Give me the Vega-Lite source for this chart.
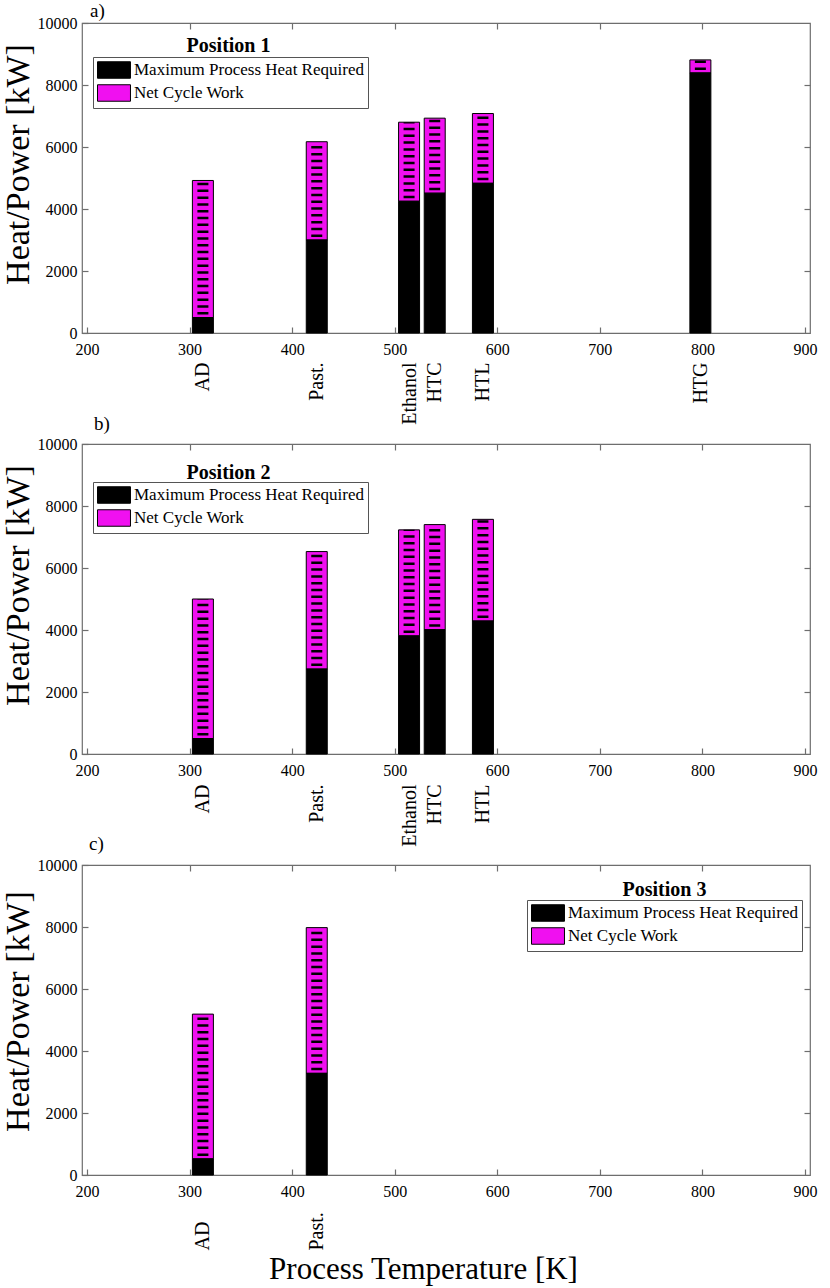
{
  "$schema": "https://vega.github.io/schema/vega-lite/v6.json",
  "description": "Process heat required and net cycle work against process temperature, three positions",
  "padding": {"left": 0, "top": 1, "right": 2, "bottom": 2},
  "background": "white",
  "data": {
    "values": [
      {"panel": "a", "process": "AD", "temperature": 313, "heat": 500, "total": 4920},
      {"panel": "a", "process": "Past.", "temperature": 424, "heat": 3000, "total": 6170},
      {"panel": "a", "process": "Ethanol", "temperature": 514, "heat": 4250, "total": 6800},
      {"panel": "a", "process": "HTC", "temperature": 539, "heat": 4510, "total": 6930},
      {"panel": "a", "process": "HTL", "temperature": 586, "heat": 4830, "total": 7080},
      {"panel": "a", "process": "HTG", "temperature": 798, "heat": 8390, "total": 8810},
      {"panel": "b", "process": "AD", "temperature": 313, "heat": 500, "total": 5000},
      {"panel": "b", "process": "Past.", "temperature": 424, "heat": 2740, "total": 6530},
      {"panel": "b", "process": "Ethanol", "temperature": 514, "heat": 3810, "total": 7230},
      {"panel": "b", "process": "HTC", "temperature": 539, "heat": 4010, "total": 7400},
      {"panel": "b", "process": "HTL", "temperature": 586, "heat": 4290, "total": 7570},
      {"panel": "c", "process": "AD", "temperature": 313, "heat": 520, "total": 5190},
      {"panel": "c", "process": "Past.", "temperature": 424, "heat": 3280, "total": 7980}
    ]
  },
  "vconcat": [
    {
      "title": {"text": "a)", "anchor": "start", "frame": "group", "dx": 8, "offset": -6},
      "width": 728,
      "height": 310,
      "transform": [{"filter": "datum.panel == 'a'"}],
      "layer": [
        {
          "mark": {"type": "bar", "size": 21, "stroke": "black", "strokeWidth": 1},
          "encoding": {
            "x": {"field": "temperature", "type": "quantitative", "scale": {"domain": [200, 900], "nice": false},
                  "axis": {"orient": "top", "labels": false, "title": null, "values": [300, 400, 500, 600, 700, 800]}},
            "y": {"field": "total", "type": "quantitative", "scale": {"domain": [0, 10000], "nice": false},
                  "axis": {"orient": "right", "labels": false, "title": null, "values": [2000, 4000, 6000, 8000]}},
            "y2": {"field": "heat"},
            "color": {"datum": "Net Cycle Work"}
          }
        },
        {
          "mark": {"type": "bar", "size": 21, "stroke": "black", "strokeWidth": 1},
          "encoding": {
            "x": {"field": "temperature", "type": "quantitative",
                  "axis": {"orient": "bottom", "title": null, "format": "d", "values": [200, 300, 400, 500, 600, 700, 800, 900], "labelPadding": 14}},
            "y": {"field": "heat", "type": "quantitative",
                  "axis": {"orient": "left", "title": "Heat/Power [kW]", "titleX": -54, "titleY": 141, "titleBaseline": "alphabetic",
                           "format": "d", "values": [0, 2000, 4000, 6000, 8000, 10000], "labelPadding": 11}},
            "color": {
              "datum": "Maximum Process Heat Required",
              "type": "nominal",
              "scale": {"domain": ["Maximum Process Heat Required", "Net Cycle Work"], "range": ["black", "#f010f0"]},
              "legend": {"orient": "none", "legendX": 11, "legendY": 34}
            }
          }
        },
        {
          "mark": {"type": "rule", "strokeWidth": 11, "strokeDash": [2.5, 4.3], "strokeDashOffset": -3, "color": "black", "strokeCap": "butt"},
          "encoding": {
            "x": {"field": "temperature", "type": "quantitative",
                  "axis": {"orient": "bottom", "title": null, "ticks": false, "labelAngle": 270, "labelAlign": "right", "labelBaseline": "middle",
                           "labelPadding": 29, "labelFontSize": 20, "labelOverlap": false,
                           "values": [313, 424, 514, 539, 586, 798],
                           "labelExpr": "datum.value == 313 ? 'AD' : datum.value == 424 ? 'Past.' : datum.value == 514 ? 'Ethanol' : datum.value == 539 ? 'HTC' : datum.value == 586 ? 'HTL' : 'HTG'"}},
            "y": {"field": "heat", "type": "quantitative", "axis": null},
            "y2": {"field": "total"}
          }
        },
        {
          "data": {"values": [{"panel": "a", "label": "Position 1"}]},
          "mark": {"type": "text", "fontSize": 20, "fontWeight": "bold", "baseline": "middle"},
          "encoding": {
            "x": {"datum": 338, "type": "quantitative", "axis": null},
            "y": {"datum": 9260, "type": "quantitative", "axis": null},
            "text": {"field": "label"}
          }
        }
      ],
      "resolve": {"axis": {"x": "independent", "y": "independent"}}
    },
    {
      "title": {"text": "b)", "anchor": "start", "frame": "group", "dx": 12, "offset": 2},
      "width": 728,
      "height": 310,
      "transform": [{"filter": "datum.panel == 'b'"}],
      "layer": [
        {
          "mark": {"type": "bar", "size": 21, "stroke": "black", "strokeWidth": 1},
          "encoding": {
            "x": {"field": "temperature", "type": "quantitative", "scale": {"domain": [200, 900], "nice": false},
                  "axis": {"orient": "top", "labels": false, "title": null, "values": [300, 400, 500, 600, 700, 800]}},
            "y": {"field": "total", "type": "quantitative", "scale": {"domain": [0, 10000], "nice": false},
                  "axis": {"orient": "right", "labels": false, "title": null, "values": [2000, 4000, 6000, 8000]}},
            "y2": {"field": "heat"},
            "color": {"datum": "Net Cycle Work"}
          }
        },
        {
          "mark": {"type": "bar", "size": 21, "stroke": "black", "strokeWidth": 1},
          "encoding": {
            "x": {"field": "temperature", "type": "quantitative",
                  "axis": {"orient": "bottom", "title": null, "format": "d", "values": [200, 300, 400, 500, 600, 700, 800, 900], "labelPadding": 14}},
            "y": {"field": "heat", "type": "quantitative",
                  "axis": {"orient": "left", "title": "Heat/Power [kW]", "titleX": -54, "titleY": 141, "titleBaseline": "alphabetic",
                           "format": "d", "values": [0, 2000, 4000, 6000, 8000, 10000], "labelPadding": 11}},
            "color": {
              "datum": "Maximum Process Heat Required",
              "type": "nominal",
              "scale": {"domain": ["Maximum Process Heat Required", "Net Cycle Work"], "range": ["black", "#f010f0"]},
              "legend": {"orient": "none", "legendX": 11, "legendY": 38}
            }
          }
        },
        {
          "mark": {"type": "rule", "strokeWidth": 11, "strokeDash": [2.5, 4.3], "strokeDashOffset": -3, "color": "black", "strokeCap": "butt"},
          "encoding": {
            "x": {"field": "temperature", "type": "quantitative",
                  "axis": {"orient": "bottom", "title": null, "ticks": false, "labelAngle": 270, "labelAlign": "right", "labelBaseline": "middle",
                           "labelPadding": 30, "labelFontSize": 20, "labelOverlap": false,
                           "values": [313, 424, 514, 539, 586],
                           "labelExpr": "datum.value == 313 ? 'AD' : datum.value == 424 ? 'Past.' : datum.value == 514 ? 'Ethanol' : datum.value == 539 ? 'HTC' : 'HTL'"}},
            "y": {"field": "heat", "type": "quantitative", "axis": null},
            "y2": {"field": "total"}
          }
        },
        {
          "data": {"values": [{"panel": "b", "label": "Position 2"}]},
          "mark": {"type": "text", "fontSize": 20, "fontWeight": "bold", "baseline": "middle"},
          "encoding": {
            "x": {"datum": 338, "type": "quantitative", "axis": null},
            "y": {"datum": 9080, "type": "quantitative", "axis": null},
            "text": {"field": "label"}
          }
        }
      ],
      "resolve": {"axis": {"x": "independent", "y": "independent"}}
    },
    {
      "title": {"text": "c)", "anchor": "start", "frame": "group", "dx": 7, "offset": 3},
      "width": 728,
      "height": 310,
      "transform": [{"filter": "datum.panel == 'c'"}],
      "layer": [
        {
          "mark": {"type": "bar", "size": 21, "stroke": "black", "strokeWidth": 1},
          "encoding": {
            "x": {"field": "temperature", "type": "quantitative", "scale": {"domain": [200, 900], "nice": false},
                  "axis": {"orient": "top", "labels": false, "title": null, "values": [300, 400, 500, 600, 700, 800]}},
            "y": {"field": "total", "type": "quantitative", "scale": {"domain": [0, 10000], "nice": false},
                  "axis": {"orient": "right", "labels": false, "title": null, "values": [2000, 4000, 6000, 8000]}},
            "y2": {"field": "heat"},
            "color": {"datum": "Net Cycle Work"}
          }
        },
        {
          "mark": {"type": "bar", "size": 21, "stroke": "black", "strokeWidth": 1},
          "encoding": {
            "x": {"field": "temperature", "type": "quantitative",
                  "axis": {"orient": "bottom", "title": "Process Temperature [K]", "titleFontSize": 31, "titleX": 341, "titleY": 103,
                           "titleBaseline": "alphabetic", "format": "d", "values": [200, 300, 400, 500, 600, 700, 800, 900], "labelPadding": 14}},
            "y": {"field": "heat", "type": "quantitative",
                  "axis": {"orient": "left", "title": "Heat/Power [kW]", "titleX": -54, "titleY": 146, "titleBaseline": "alphabetic",
                           "format": "d", "values": [0, 2000, 4000, 6000, 8000, 10000], "labelPadding": 11}},
            "color": {
              "datum": "Maximum Process Heat Required",
              "type": "nominal",
              "scale": {"domain": ["Maximum Process Heat Required", "Net Cycle Work"], "range": ["black", "#f010f0"]},
              "legend": {"orient": "none", "legendX": 445, "legendY": 35}
            }
          }
        },
        {
          "mark": {"type": "rule", "strokeWidth": 11, "strokeDash": [2.5, 4.3], "strokeDashOffset": -3, "color": "black", "strokeCap": "butt"},
          "encoding": {
            "x": {"field": "temperature", "type": "quantitative",
                  "axis": {"orient": "bottom", "title": null, "ticks": false, "labelAngle": 270, "labelAlign": "left", "labelBaseline": "middle",
                           "labelPadding": 75, "labelFontSize": 20, "labelOverlap": false,
                           "values": [313, 424],
                           "labelExpr": "datum.value == 313 ? 'AD' : 'Past.'"}},
            "y": {"field": "heat", "type": "quantitative", "axis": null},
            "y2": {"field": "total"}
          }
        },
        {
          "data": {"values": [{"panel": "c", "label": "Position 3"}]},
          "mark": {"type": "text", "fontSize": 20, "fontWeight": "bold", "baseline": "middle"},
          "encoding": {
            "x": {"datum": 763, "type": "quantitative", "axis": null},
            "y": {"datum": 9200, "type": "quantitative", "axis": null},
            "text": {"field": "label"}
          }
        }
      ],
      "resolve": {"axis": {"x": "independent", "y": "independent"}}
    }
  ],
  "spacing": 111,
  "bounds": "flush",
  "resolve": {"scale": {"color": "independent"}},
  "config": {
    "font": "Liberation Serif",
    "view": {"stroke": "#6e6e6e", "strokeWidth": 1.2},
    "title": {"font": "Liberation Serif", "fontSize": 19, "fontWeight": "normal", "color": "black"},
    "axis": {
      "grid": false,
      "domain": false,
      "tickColor": "#6e6e6e",
      "tickSize": -6,
      "tickWidth": 1.2,
      "labelFont": "Liberation Serif",
      "labelFontSize": 16,
      "labelColor": "black",
      "labelFlush": false,
      "labelOverlap": false,
      "titleFont": "Liberation Serif",
      "titleFontSize": 34,
      "titleFontWeight": "normal",
      "titleColor": "black"
    },
    "legend": {
      "title": null,
      "fillColor": "white",
      "strokeColor": "#555555",
      "padding": 4,
      "cornerRadius": 0,
      "labelFont": "Liberation Serif",
      "labelFontSize": 17,
      "labelColor": "black",
      "labelLimit": 0,
      "labelOffset": 19,
      "rowPadding": 1,
      "symbolType": "M-1,-0.97H2.88V0.97H-1Z",
      "symbolSize": 289,
      "symbolStrokeColor": "black",
      "symbolStrokeWidth": 1,
      "symbolOpacity": 1
    }
  }
}
